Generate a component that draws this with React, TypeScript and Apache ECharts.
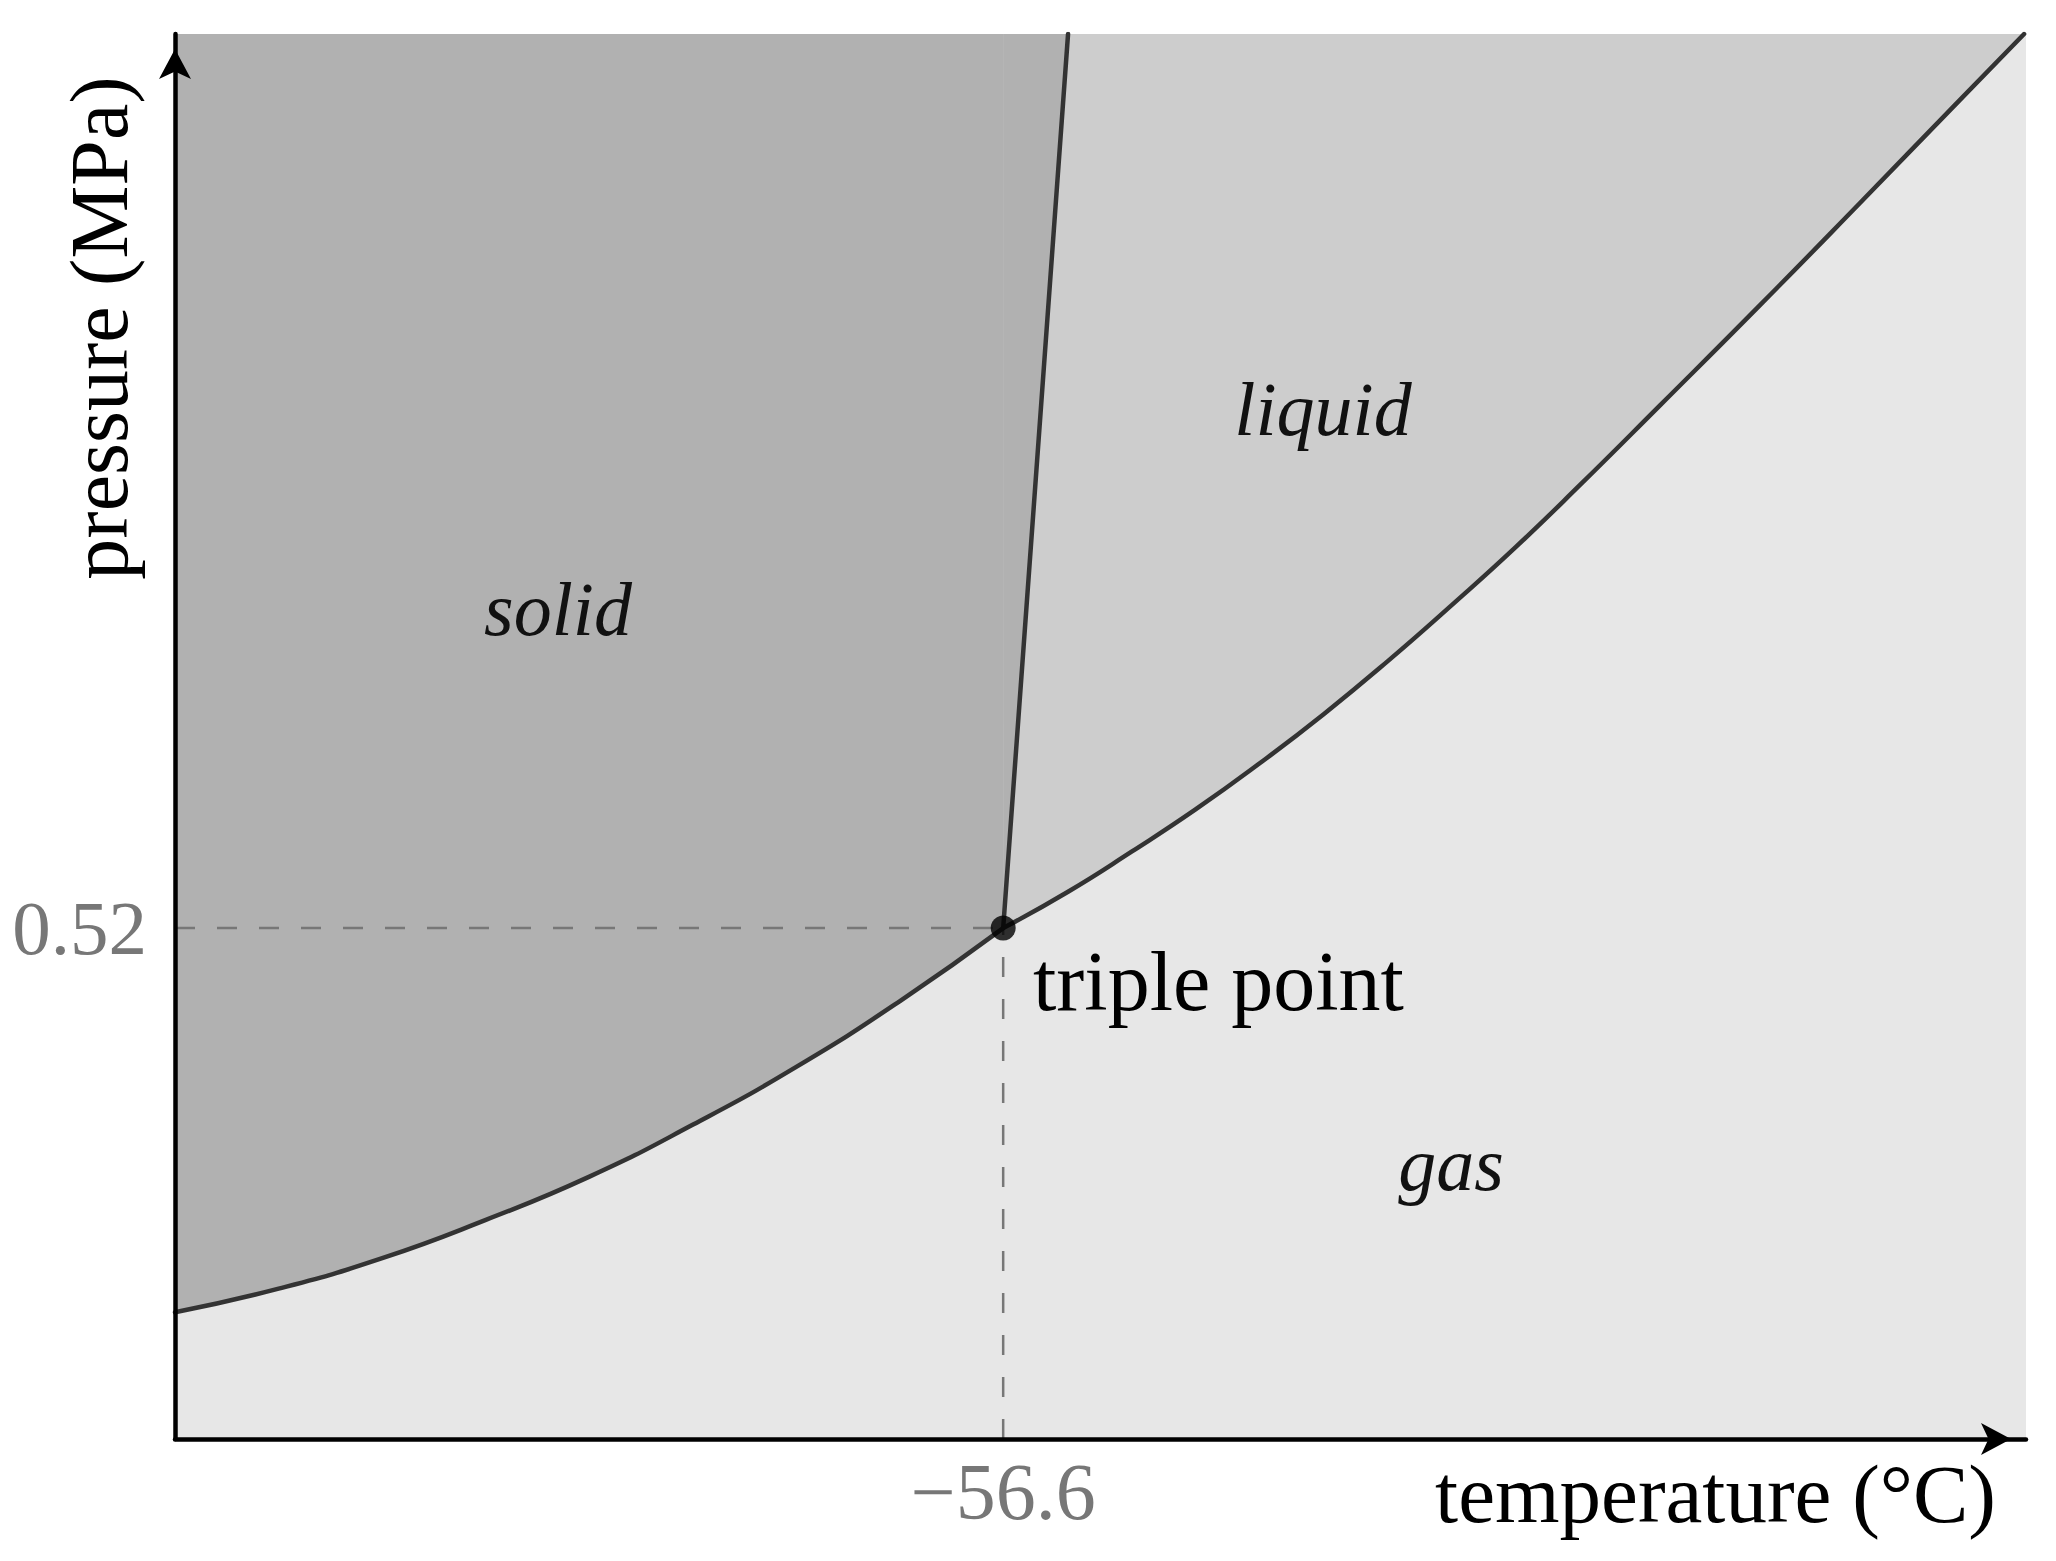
import React, { useEffect, useRef } from "react";
import * as echarts from "echarts";

// Sublimation curve (solid / gas boundary)
const SUB_T = [-100, -94.57, -89.14, -83.71, -78.28, -72.85, -67.42, -61.99, -56.6];
const SUB_P = [0.129, 0.153, 0.184, 0.223, 0.267, 0.32, 0.379, 0.446, 0.52];
// Vaporization curve (liquid / gas boundary)
const VAP_T = [-56.6, -53.2, -49.85, -46.5, -43.14, -39.79, -36.43, -33.08, -29.73, -26.37, -22.18, -16.94, -11.7, -6.46, -3.1];
const VAP_P = [0.52, 0.557, 0.598, 0.641, 0.688, 0.738, 0.792, 0.849, 0.908, 0.971, 1.052, 1.154, 1.258, 1.363, 1.43];
// Melting line (solid / liquid boundary)
const MELT_T = [-56.6, -53.2];
const MELT_P = [0.52, 1.43];
// Triple point
const TRIPLE = [-56.6, 0.52];
// Tick labels
const X_TICKS = [-56.6];
const Y_TICKS = [0.52];
// Axis ranges
const X_MIN = -100;
const X_MAX = -3;
const Y_MIN = 0;
const Y_MAX = 1.43;

const zip = (a: number[], b: number[]) => a.map((v, i) => [v, b[i]]);

const SERIF = '"Liberation Serif", "Times New Roman", serif';

export default function App() {
  const ref = useRef<HTMLDivElement>(null);
  useEffect(() => {
    if (!ref.current) return;
    const chart = echarts.init(ref.current, undefined, { renderer: "svg" });
    const sub = zip(SUB_T, SUB_P);
    const vap = zip(VAP_T, VAP_P);
    const melt = zip(MELT_T, MELT_P);
    const lineColor = "#333333";
    const fillSeries = (data: number[][], color: string, smooth: number) => ({
      type: "line",
      data,
      smooth,
      symbol: "none",
      silent: true,
      z: 1,
      lineStyle: { width: 0, opacity: 0 },
      areaStyle: { color, opacity: 1, origin: "end" },
    });
    const strokeSeries = (data: number[][], smooth: number) => ({
      type: "line",
      data,
      smooth,
      symbol: "none",
      silent: true,
      z: 4,
      lineStyle: { width: 4.5, color: lineColor, cap: "round", join: "round" },
    });
    const dashStyle = { width: 2.5, color: "#777777", type: [20, 22] };
    const axisLine = {
      onZero: false,
      lineStyle: { color: "#000", width: 4.5 },
      symbol: ["none", "arrow"],
      symbolSize: [24, 30],
      symbolOffset: [0, -15],
    };
    const textStyle = (align: string) => ({
      align,
      textAlign: align,
      verticalAlign: "middle",
      textVerticalAlign: "middle",
    });
    chart.setOption({
      animation: false,
      backgroundColor: "#ffffff",
      grid: {
        left: 175,
        right: 30,
        top: 34,
        bottom: 122,
        show: true,
        backgroundColor: "#e7e7e7",
        borderWidth: 0,
      },
      xAxis: {
        type: "value",
        min: X_MIN,
        max: X_MAX,
        z: 10,
        splitLine: { show: false },
        axisTick: { show: false },
        axisLine,
        axisLabel: {
          customValues: X_TICKS,
          formatter: (v: number) => String(v).replace("-", "\u2212"),
          fontFamily: SERIF,
          fontSize: 80,
          color: "#777777",
          verticalAlign: "middle",
          margin: 53,
        },
      },
      yAxis: {
        type: "value",
        min: Y_MIN,
        max: Y_MAX,
        z: 10,
        splitLine: { show: false },
        axisTick: { show: false },
        axisLine,
        axisLabel: {
          customValues: Y_TICKS,
          formatter: (v: number) => String(v),
          fontFamily: SERIF,
          fontSize: 77,
          color: "#777777",
          margin: 28,
        },
      },
      series: [
        fillSeries(vap, "#cdcdcd", 0.5),
        fillSeries(sub, "#b1b1b1", 0.5),
        fillSeries(melt, "#b1b1b1", 0),
        {
          type: "line",
          data: [[X_MIN, TRIPLE[1]], TRIPLE],
          symbol: "none",
          silent: true,
          z: 3,
          lineStyle: dashStyle,
        },
        {
          type: "line",
          data: [[TRIPLE[0], Y_MIN], TRIPLE],
          symbol: "none",
          silent: true,
          z: 3,
          lineStyle: dashStyle,
        },
        strokeSeries(sub, 0.5),
        strokeSeries(vap, 0.5),
        strokeSeries(melt, 0),
        {
          type: "scatter",
          data: [TRIPLE],
          symbolSize: 25,
          silent: true,
          z: 5,
          itemStyle: { color: "#000000" },
        },
      ],
      graphic: [
        {
          type: "text",
          z: 100,
          x: 1996,
          y: 1494,
          style: { text: "temperature (°C)", font: `83px ${SERIF}`, fill: "#000", ...textStyle("right") },
        },
        {
          type: "text",
          z: 100,
          x: 99,
          y: 328,
          rotation: Math.PI / 2,
          style: { text: "pressure (MPa)", font: `82px ${SERIF}`, fill: "#000", ...textStyle("center") },
        },
        {
          type: "text",
          z: 100,
          x: 1033,
          y: 981,
          style: { text: "triple point", font: `84px ${SERIF}`, fill: "#000", ...textStyle("left") },
        },
        {
          type: "text",
          z: 100,
          x: 558,
          y: 609,
          style: { text: "solid", font: `italic 76px ${SERIF}`, fill: "#111", ...textStyle("center") },
        },
        {
          type: "text",
          z: 100,
          x: 1323,
          y: 409,
          style: { text: "liquid", font: `italic 76px ${SERIF}`, fill: "#111", ...textStyle("center") },
        },
        {
          type: "text",
          z: 100,
          x: 1451,
          y: 1164,
          style: { text: "gas", font: `italic 76px ${SERIF}`, fill: "#111", ...textStyle("center") },
        },
      ],
    });
    return () => chart.dispose();
  }, []);
  return (
    <div
      ref={ref}
      style={{ position: "absolute", left: 0, top: 0, width: 2056, height: 1561, background: "#fff" }}
    />
  );
}
